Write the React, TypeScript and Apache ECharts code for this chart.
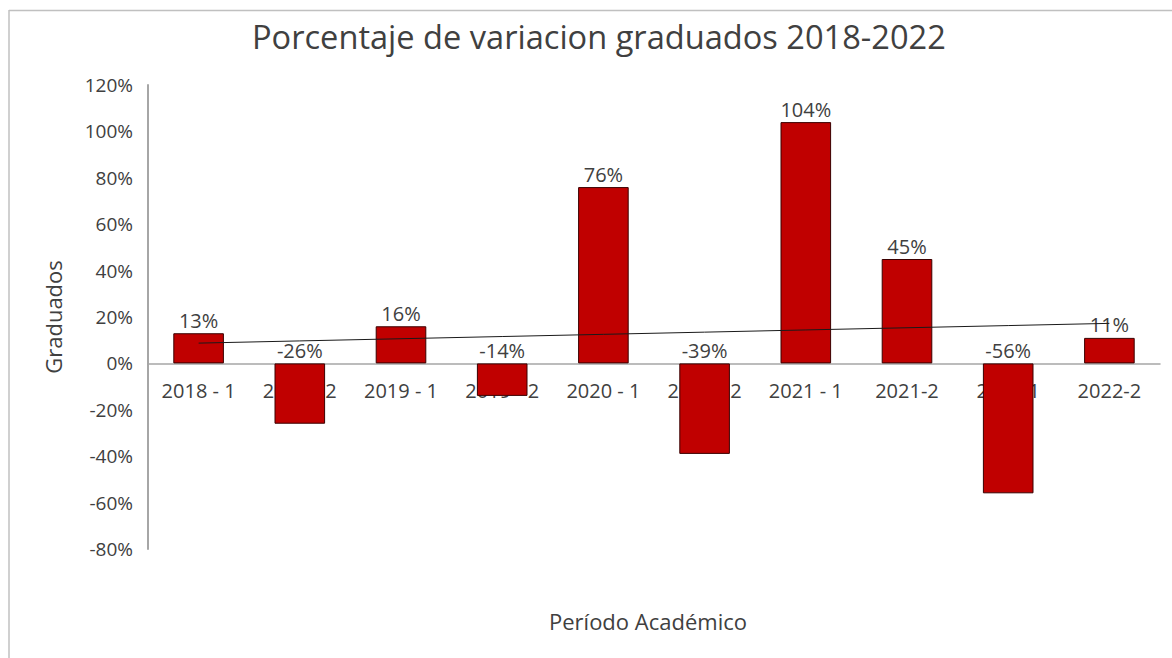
import React, { useEffect, useRef } from "react";
import * as echarts from "echarts";

const categories = [
  "2018 - 1",
  "2018 - 2",
  "2019 - 1",
  "2019 - 2",
  "2020 - 1",
  "2020 - 2",
  "2021 - 1",
  "2021-2",
  "2022-1",
  "2022-2",
];
const variation = [13, -26, 16, -14, 76, -39, 104, 45, -56, 11];
const yTicks = { min: -80, max: 120, interval: 20 };

const titleText = "Porcentaje de variacion graduados 2018-2022";
const yAxisName = "Graduados";
const xAxisName = "Período Académico";

function linearTrend(vals: number[]): number[] {
  const n = vals.length;
  const xs = vals.map((_, i) => i + 1);
  const mx = xs.reduce((a, b) => a + b, 0) / n;
  const my = vals.reduce((a, b) => a + b, 0) / n;
  let sxy = 0;
  let sxx = 0;
  for (let i = 0; i < n; i++) {
    sxy += (xs[i] - mx) * (vals[i] - my);
    sxx += (xs[i] - mx) * (xs[i] - mx);
  }
  const slope = sxy / sxx;
  return xs.map((x) => my + slope * (x - mx));
}

const FONT = "'Open Sans', 'Noto Sans', sans-serif";
const TXT = "#404040";
const GRID_TOP = 85;
const GRID_BOTTOM_PX = 549;

export default function App() {
  const ref = useRef<HTMLDivElement>(null);
  useEffect(() => {
    if (!ref.current) return;
    const chart = echarts.init(ref.current, undefined, { renderer: "svg" });
    const trend = linearTrend(variation);
    // shift the category axis up to the zero line
    const zeroFrac = (0 - yTicks.min) / (yTicks.max - yTicks.min);
    const zeroOffset = -(GRID_BOTTOM_PX - GRID_TOP) * zeroFrac;
    chart.setOption({
      animation: false,
      backgroundColor: "#ffffff",
      textStyle: { fontFamily: FONT },
      title: {
        text: titleText,
        left: 247,
        top: 15,
        textStyle: { fontFamily: FONT, fontSize: 32.6, fontWeight: "normal", color: "#404040" },
      },
      grid: { left: 148, right: 12, top: GRID_TOP, bottom: 658 - GRID_BOTTOM_PX, containLabel: false },
      xAxis: {
        type: "category",
        data: categories,
        offset: zeroOffset,
        axisLine: { onZero: false, lineStyle: { color: "#a6a6a6", width: 1.5 } },
        axisTick: { show: false },
        axisLabel: { color: TXT, fontSize: 20, fontFamily: FONT, margin: 17, interval: 0 },
        splitLine: { show: false },
        z: 0,
      },
      yAxis: {
        type: "value",
        min: yTicks.min,
        max: yTicks.max,
        interval: yTicks.interval,
        name: yAxisName,
        nameLocation: "middle",
        nameGap: 84,
        nameTextStyle: { color: TXT, fontSize: 22, fontFamily: FONT },
        axisLine: { show: true, lineStyle: { color: "#a6a6a6", width: 2 } },
        axisTick: { show: false },
        splitLine: { show: false },
        axisLabel: {
          color: TXT,
          fontSize: 19,
          fontFamily: FONT,
          margin: 15,
          formatter: (v: number) => `${v}%`,
        },
      },
      series: [
        {
          type: "bar",
          data: variation,
          barWidth: "50%",
          itemStyle: { color: "#c00000", borderColor: "#3a0000", borderWidth: 1 },
          label: {
            show: true,
            position: "top",
            distance: 3,
            color: TXT,
            fontSize: 20,
            fontFamily: FONT,
            formatter: (p: any) => `${p.value}%`,
          },
          z: 2,
        },
        {
          type: "line",
          data: trend,
          symbol: "none",
          lineStyle: { color: "#1a1a1a", width: 1 },
          silent: true,
          z: 3,
        },
      ],
      graphic: [
        {
          type: "text",
          left: 549,
          top: 610,
          style: { text: xAxisName, fontSize: 22, fontFamily: FONT, fill: TXT },
        },
        {
          type: "line",
          shape: { x1: 9, y1: 10.5, x2: 1172, y2: 10.5 },
          style: { stroke: "#c0c0c0", lineWidth: 1.5 },
        },
        {
          type: "line",
          shape: { x1: 9, y1: 10, x2: 9, y2: 658 },
          style: { stroke: "#c0c0c0", lineWidth: 1.5 },
        },
      ],
    });
    return () => chart.dispose();
  }, []);
  return (
    <div
      ref={ref}
      style={{ position: "fixed", left: 0, top: 0, width: 1172, height: 658 }}
    />
  );
}
